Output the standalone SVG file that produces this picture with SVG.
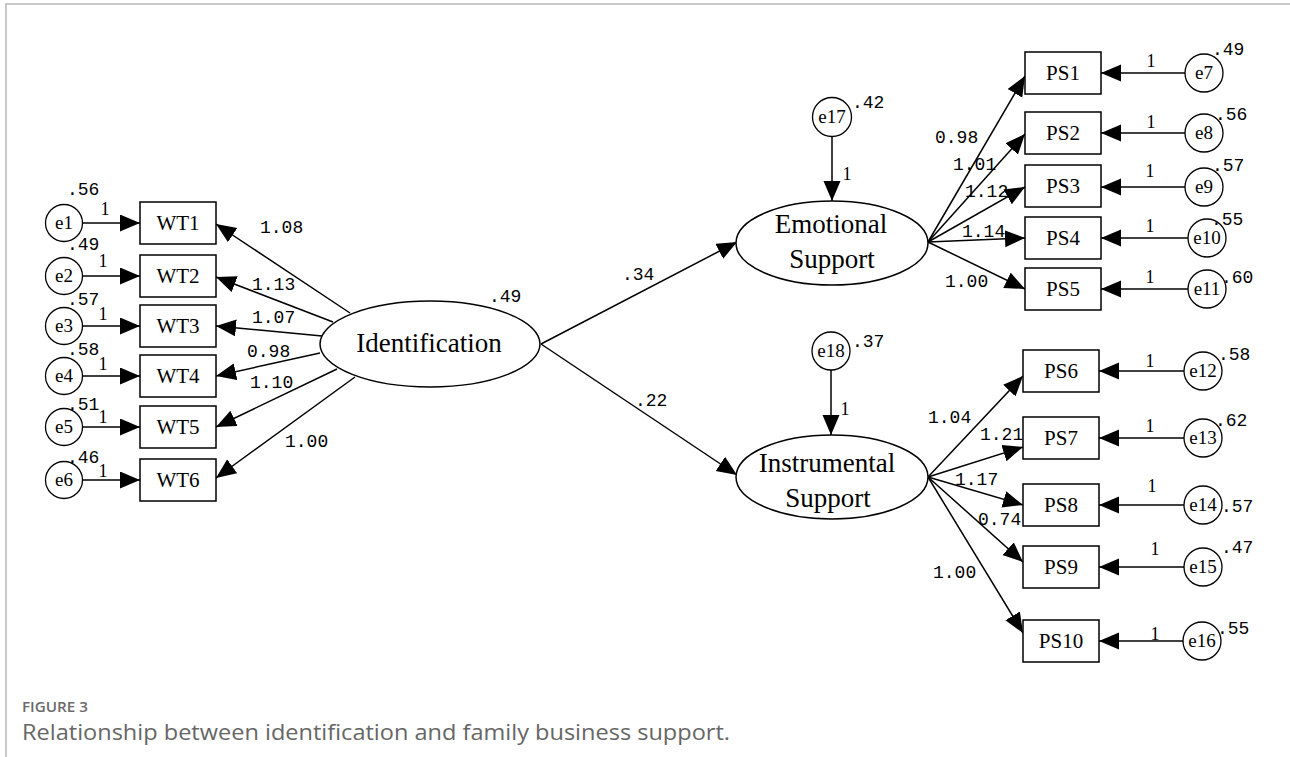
<svg xmlns="http://www.w3.org/2000/svg" width="1290" height="757" viewBox="0 0 1290 757">
  <style>
    .box { fill: #fff; stroke: #000; stroke-width: 1.5; }
    .lat { fill: #fff; stroke: #000; stroke-width: 1.5; }
    .err { fill: #fff; stroke: #000; stroke-width: 1.3; }
    .edge { stroke: #000; stroke-width: 1.5; fill: none; marker-end: url(#ah); }
    .lbl { font-family: "Liberation Serif", "Times New Roman", serif; font-size: 21px; fill: #000; text-anchor: middle; }
    .big { font-family: "Liberation Serif", "Times New Roman", serif; font-size: 27px; fill: #000; text-anchor: middle; }
    .elbl { font-family: "Liberation Serif", "Times New Roman", serif; font-size: 19px; fill: #000; text-anchor: middle; }
    .num { font-family: "Liberation Mono", "Courier New", monospace; font-size: 18px; fill: #000; }
    .one { font-family: "Liberation Serif", "Times New Roman", serif; font-size: 18px; fill: #000; text-anchor: middle; }
    .frame { stroke: #b8b8b8; stroke-width: 1.5; fill: none; }
    .caphead { font-family: "Open Sans", "Liberation Sans", sans-serif; font-size: 14px; font-weight: 600; fill: #6a6a6a; }
    .cap { font-family: "Open Sans", "Liberation Sans", sans-serif; font-size: 22px; fill: #666; }
  </style>
  <defs>
    <marker id="ah" markerUnits="userSpaceOnUse" markerWidth="20" markerHeight="18" refX="20" refY="8.5" orient="auto">
      <path d="M0,0 L20,8.5 L0,17 z" fill="#000"/>
    </marker>
  </defs>

  <rect width="1290" height="757" fill="#fff"/>
  <path class="frame" d="M6,757 V4 H1290"/>

  <!-- connectors -->
  <g id="connectors">
    <!-- errors to WT indicators -->
    <line class="edge" x1="82" y1="223" x2="140" y2="223"/>
    <line class="edge" x1="82" y1="276" x2="140" y2="276"/>
    <line class="edge" x1="82" y1="326" x2="140" y2="326"/>
    <line class="edge" x1="82" y1="376" x2="140" y2="376"/>
    <line class="edge" x1="82" y1="427" x2="140" y2="427"/>
    <line class="edge" x1="82" y1="480" x2="140" y2="480"/>
    <!-- Identification loadings -->
    <line class="edge" x1="350" y1="313" x2="216" y2="224"/>
    <line class="edge" x1="333" y1="322" x2="216" y2="277"/>
    <line class="edge" x1="322" y1="336" x2="216" y2="326"/>
    <line class="edge" x1="320" y1="353" x2="216" y2="376"/>
    <line class="edge" x1="337" y1="369" x2="216" y2="427"/>
    <line class="edge" x1="355" y1="377" x2="216" y2="478"/>
    <!-- structural paths -->
    <line class="edge" x1="541" y1="344" x2="737" y2="242"/>
    <line class="edge" x1="541" y1="344" x2="737" y2="475"/>
    <!-- disturbances -->
    <line class="edge" x1="832" y1="137" x2="832" y2="201"/>
    <line class="edge" x1="831" y1="370" x2="831" y2="435"/>
    <!-- Emotional Support loadings -->
    <line class="edge" x1="928" y1="242" x2="1025" y2="76"/>
    <line class="edge" x1="928" y1="242" x2="1025" y2="134"/>
    <line class="edge" x1="928" y1="242" x2="1025" y2="187"/>
    <line class="edge" x1="928" y1="242" x2="1025" y2="238"/>
    <line class="edge" x1="928" y1="242" x2="1025" y2="289"/>
    <!-- Instrumental Support loadings -->
    <line class="edge" x1="928" y1="477" x2="1023" y2="376"/>
    <line class="edge" x1="928" y1="477" x2="1023" y2="447"/>
    <line class="edge" x1="928" y1="477" x2="1023" y2="505"/>
    <line class="edge" x1="928" y1="477" x2="1023" y2="562"/>
    <line class="edge" x1="928" y1="477" x2="1023" y2="633"/>
    <!-- errors to PS indicators -->
    <line class="edge" x1="1185" y1="73" x2="1101" y2="73"/>
    <line class="edge" x1="1185" y1="133" x2="1101" y2="133"/>
    <line class="edge" x1="1185" y1="187" x2="1101" y2="187"/>
    <line class="edge" x1="1188" y1="238" x2="1101" y2="238"/>
    <line class="edge" x1="1188" y1="289" x2="1101" y2="289"/>
    <line class="edge" x1="1184" y1="371" x2="1099" y2="371"/>
    <line class="edge" x1="1184" y1="438" x2="1099" y2="438"/>
    <line class="edge" x1="1184" y1="505" x2="1099" y2="505"/>
    <line class="edge" x1="1184" y1="567" x2="1099" y2="567"/>
    <line class="edge" x1="1183" y1="641" x2="1099" y2="641"/>

    <!-- path coefficients -->
    <text class="num" x="260" y="233">1.08</text>
    <text class="num" x="252" y="290">1.13</text>
    <text class="num" x="252" y="323">1.07</text>
    <text class="num" x="247" y="357">0.98</text>
    <text class="num" x="250" y="388">1.10</text>
    <text class="num" x="285" y="447">1.00</text>
    <text class="num" x="622" y="280">.34</text>
    <text class="num" x="635" y="406">.22</text>
    <text class="num" x="935" y="143">0.98</text>
    <text class="num" x="953" y="170">1.01</text>
    <text class="num" x="965" y="197">1.12</text>
    <text class="num" x="962" y="237">1.14</text>
    <text class="num" x="945" y="287">1.00</text>
    <text class="num" x="928" y="423">1.04</text>
    <text class="num" x="980" y="440">1.21</text>
    <text class="num" x="955" y="485">1.17</text>
    <text class="num" x="978" y="525">0.74</text>
    <text class="num" x="933" y="578">1.00</text>

    <!-- fixed error weights -->
    <text class="one" x="105" y="215">1</text>
    <text class="one" x="103" y="267">1</text>
    <text class="one" x="103" y="320">1</text>
    <text class="one" x="103" y="370">1</text>
    <text class="one" x="103" y="423">1</text>
    <text class="one" x="103" y="477">1</text>
    <text class="one" x="847" y="180">1</text>
    <text class="one" x="845" y="415">1</text>
    <text class="one" x="1151" y="67">1</text>
    <text class="one" x="1151" y="128">1</text>
    <text class="one" x="1150" y="177">1</text>
    <text class="one" x="1150" y="232">1</text>
    <text class="one" x="1150" y="283">1</text>
    <text class="one" x="1150" y="367">1</text>
    <text class="one" x="1150" y="432">1</text>
    <text class="one" x="1152" y="492">1</text>
    <text class="one" x="1155" y="555">1</text>
    <text class="one" x="1155" y="640">1</text>
  </g>

  <!-- WT indicators and their errors -->
  <g id="WT1"><rect class="box" x="140" y="202" width="76" height="42"/><text class="lbl" x="178" y="230">WT1</text></g>
  <g id="WT2"><rect class="box" x="140" y="255" width="76" height="42"/><text class="lbl" x="178" y="283">WT2</text></g>
  <g id="WT3"><rect class="box" x="140" y="305" width="76" height="42"/><text class="lbl" x="178" y="333">WT3</text></g>
  <g id="WT4"><rect class="box" x="140" y="355" width="76" height="42"/><text class="lbl" x="178" y="383">WT4</text></g>
  <g id="WT5"><rect class="box" x="140" y="406" width="76" height="42"/><text class="lbl" x="178" y="434">WT5</text></g>
  <g id="WT6"><rect class="box" x="140" y="459" width="76" height="42"/><text class="lbl" x="178" y="487">WT6</text></g>

  <g id="e1"><circle class="err" cx="64" cy="223" r="18.5"/><text class="elbl" x="64" y="229">e1</text><text class="num" x="67" y="195">.56</text></g>
  <g id="e2"><circle class="err" cx="64" cy="276" r="18.5"/><text class="elbl" x="64" y="282">e2</text><text class="num" x="67" y="250">.49</text></g>
  <g id="e3"><circle class="err" cx="64" cy="326" r="18.5"/><text class="elbl" x="64" y="332">e3</text><text class="num" x="67" y="305">.57</text></g>
  <g id="e4"><circle class="err" cx="64" cy="376" r="18.5"/><text class="elbl" x="64" y="382">e4</text><text class="num" x="67" y="355">.58</text></g>
  <g id="e5"><circle class="err" cx="64" cy="427" r="18.5"/><text class="elbl" x="64" y="433">e5</text><text class="num" x="67" y="410">.51</text></g>
  <g id="e6"><circle class="err" cx="64" cy="480" r="18.5"/><text class="elbl" x="64" y="486">e6</text><text class="num" x="67" y="463">.46</text></g>

  <!-- latent variables -->
  <g id="Identification">
    <ellipse class="lat" cx="430" cy="344" rx="110" ry="43"/>
    <text class="big" x="429" y="352">Identification</text>
    <text class="num" x="489" y="302">.49</text>
  </g>
  <g id="EmotionalSupport">
    <ellipse class="lat" cx="832" cy="243" rx="96" ry="42"/>
    <text class="big" x="831" y="233">Emotional</text>
    <text class="big" x="832" y="268">Support</text>
  </g>
  <g id="InstrumentalSupport">
    <ellipse class="lat" cx="832" cy="477" rx="96" ry="42"/>
    <text class="big" x="827" y="472">Instrumental</text>
    <text class="big" x="828" y="507">Support</text>
  </g>
  <g id="e17"><circle class="err" cx="832" cy="117" r="19.5"/><text class="elbl" x="832" y="123">e17</text><text class="num" x="852" y="108">.42</text></g>
  <g id="e18"><circle class="err" cx="831" cy="351" r="19"/><text class="elbl" x="831" y="357">e18</text><text class="num" x="852" y="347">.37</text></g>

  <!-- PS indicators and their errors -->
  <g id="PS1"><rect class="box" x="1025" y="52" width="76" height="42"/><text class="lbl" x="1063" y="80">PS1</text></g>
  <g id="PS2"><rect class="box" x="1025" y="112" width="76" height="42"/><text class="lbl" x="1063" y="140">PS2</text></g>
  <g id="PS3"><rect class="box" x="1025" y="165" width="76" height="42"/><text class="lbl" x="1063" y="193">PS3</text></g>
  <g id="PS4"><rect class="box" x="1025" y="217" width="76" height="42"/><text class="lbl" x="1063" y="245">PS4</text></g>
  <g id="PS5"><rect class="box" x="1025" y="268" width="76" height="42"/><text class="lbl" x="1063" y="296">PS5</text></g>
  <g id="PS6"><rect class="box" x="1023" y="350" width="76" height="42"/><text class="lbl" x="1061" y="378">PS6</text></g>
  <g id="PS7"><rect class="box" x="1023" y="417" width="76" height="42"/><text class="lbl" x="1061" y="445">PS7</text></g>
  <g id="PS8"><rect class="box" x="1023" y="484" width="76" height="42"/><text class="lbl" x="1061" y="512">PS8</text></g>
  <g id="PS9"><rect class="box" x="1023" y="546" width="76" height="42"/><text class="lbl" x="1061" y="574">PS9</text></g>
  <g id="PS10"><rect class="box" x="1023" y="620" width="76" height="42"/><text class="lbl" x="1061" y="648">PS10</text></g>

  <g id="e7"><circle class="err" cx="1204" cy="73" r="19"/><text class="elbl" x="1204" y="79">e7</text><text class="num" x="1212" y="55">.49</text></g>
  <g id="e8"><circle class="err" cx="1204" cy="133" r="19"/><text class="elbl" x="1204" y="139">e8</text><text class="num" x="1215" y="120">.56</text></g>
  <g id="e9"><circle class="err" cx="1204" cy="187" r="19"/><text class="elbl" x="1204" y="193">e9</text><text class="num" x="1212" y="171">.57</text></g>
  <g id="e10"><circle class="err" cx="1207" cy="238" r="19"/><text class="elbl" x="1207" y="244">e10</text><text class="num" x="1211" y="225">.55</text></g>
  <g id="e11"><circle class="err" cx="1207" cy="289" r="19"/><text class="elbl" x="1207" y="295">e11</text><text class="num" x="1221" y="283">.60</text></g>
  <g id="e12"><circle class="err" cx="1203" cy="371" r="19"/><text class="elbl" x="1203" y="377">e12</text><text class="num" x="1218" y="360">.58</text></g>
  <g id="e13"><circle class="err" cx="1203" cy="438" r="19"/><text class="elbl" x="1203" y="444">e13</text><text class="num" x="1215" y="426">.62</text></g>
  <g id="e14"><circle class="err" cx="1203" cy="505" r="19"/><text class="elbl" x="1203" y="511">e14</text><text class="num" x="1221" y="512">.57</text></g>
  <g id="e15"><circle class="err" cx="1203" cy="567" r="19"/><text class="elbl" x="1203" y="573">e15</text><text class="num" x="1221" y="553">.47</text></g>
  <g id="e16"><circle class="err" cx="1202" cy="641" r="19"/><text class="elbl" x="1202" y="647">e16</text><text class="num" x="1217" y="634">.55</text></g>

  <!-- caption -->
  <text class="caphead" x="22" y="712" textLength="66" lengthAdjust="spacingAndGlyphs">FIGURE 3</text>
  <text class="cap" x="22" y="740" textLength="708" lengthAdjust="spacingAndGlyphs">Relationship between identification and family business support.</text>
</svg>
